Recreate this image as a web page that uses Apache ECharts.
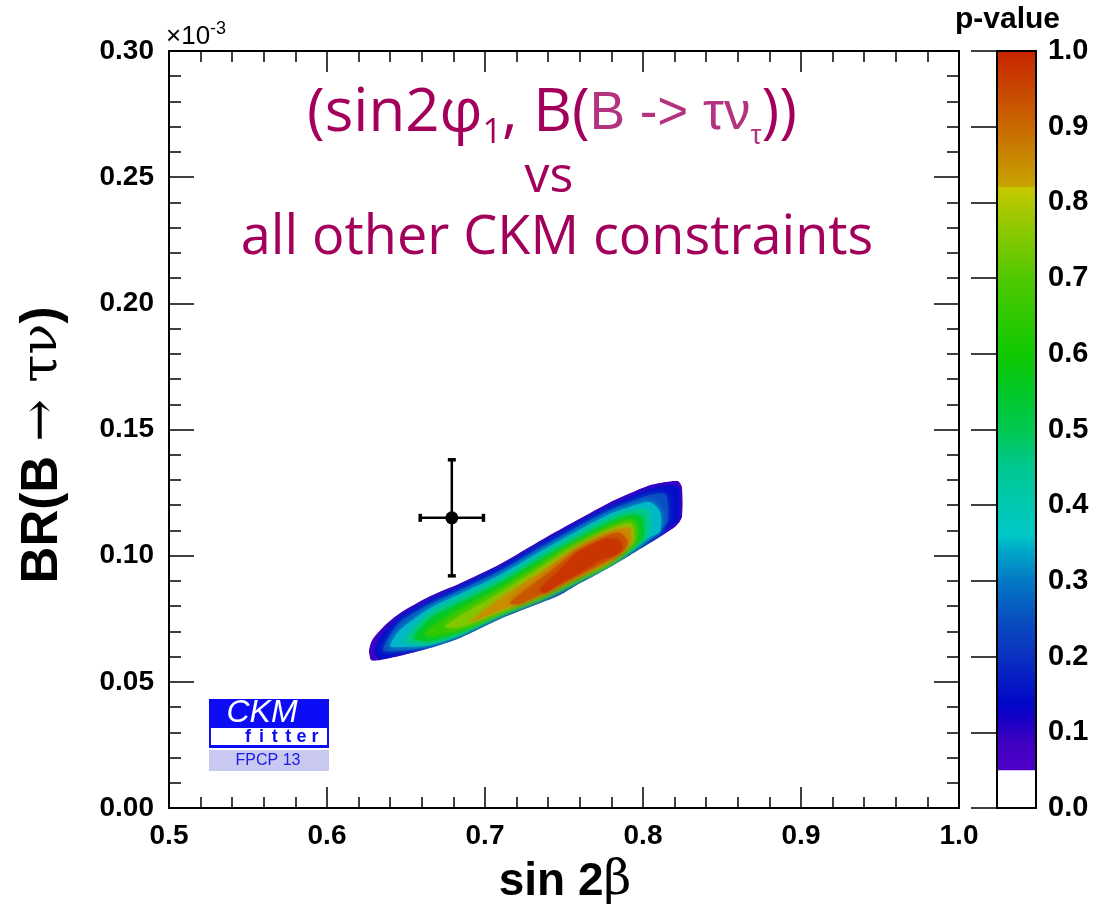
<!DOCTYPE html>
<html><head><meta charset="utf-8">
<script src="https://cdn.jsdelivr.net/npm/echarts@6/dist/echarts.min.js"></script>
<style>html,body{margin:0;padding:0;background:#fff}#c{width:1111px;height:908px}</style>
</head><body><div id="c"></div><script>
// ---- axis ranges / ticks ----
const xRange = [0.5, 1.0], xInterval = 0.1;
const yRange = [0.0, 0.30], yInterval = 0.05;
const zRange = [0.0, 1.0], zInterval = 0.1;

// ---- measurement point (sin2beta, BR) with errors ----
const measX = 0.679, measY = 0.115, measXErr = 0.020, measYErr = 0.023;

// ---- p-value contour levels and contour outlines [sin2beta, BR(x1e-3)] ----
const contourLevels = [0.05, 0.10, 0.20, 0.30, 0.40, 0.50, 0.60, 0.70, 0.80, 0.90, 0.95];
const c005 = [[0.6266,0.0626],[0.6285,0.0666],[0.6367,0.0725],[0.6462,0.0773],[0.6652,0.0840],[0.6842,0.0891],[0.7095,0.0967],[0.7367,0.1066],[0.7582,0.1141],[0.7791,0.1212],[0.7918,0.1248],[0.8044,0.1280],[0.8139,0.1292],[0.8222,0.1296],[0.8247,0.1272],[0.8247,0.1153],[0.8209,0.1117],[0.8044,0.1050],[0.7918,0.1002],[0.7791,0.0955],[0.7665,0.0911],[0.7582,0.0884],[0.7475,0.0844],[0.7367,0.0816],[0.7095,0.0749],[0.6842,0.0674],[0.6652,0.0634],[0.6462,0.0602],[0.6335,0.0586],[0.6278,0.0586]];
const c010 = [[0.6304,0.0618],[0.6335,0.0674],[0.6462,0.0757],[0.6652,0.0824],[0.6842,0.0880],[0.7095,0.0955],[0.7367,0.1054],[0.7582,0.1129],[0.7791,0.1197],[0.7918,0.1232],[0.8044,0.1264],[0.8139,0.1276],[0.8222,0.1272],[0.8228,0.1220],[0.8228,0.1161],[0.8222,0.1141],[0.8139,0.1101],[0.8044,0.1054],[0.7918,0.1006],[0.7791,0.0957],[0.7582,0.0887],[0.7367,0.0820],[0.7095,0.0753],[0.6842,0.0677],[0.6652,0.0638],[0.6462,0.0610],[0.6335,0.0590]];
const c020 = [[0.6354,0.0626],[0.6462,0.0737],[0.6652,0.0808],[0.6842,0.0864],[0.7095,0.0939],[0.7367,0.1038],[0.7582,0.1113],[0.7791,0.1181],[0.7918,0.1212],[0.8044,0.1240],[0.8139,0.1244],[0.8158,0.1200],[0.8158,0.1141],[0.8139,0.1121],[0.8044,0.1062],[0.7918,0.1010],[0.7791,0.0959],[0.7582,0.0891],[0.7367,0.0824],[0.7095,0.0757],[0.6842,0.0681],[0.6652,0.0642],[0.6462,0.0622]];
const c030 = [[0.6399,0.0642],[0.6462,0.0705],[0.6652,0.0792],[0.6842,0.0848],[0.7095,0.0923],[0.7367,0.1022],[0.7582,0.1097],[0.7791,0.1165],[0.7918,0.1193],[0.8044,0.1212],[0.8108,0.1173],[0.8108,0.1094],[0.8044,0.1074],[0.7918,0.1014],[0.7791,0.0961],[0.7582,0.0895],[0.7367,0.0828],[0.7095,0.0761],[0.6842,0.0685],[0.6652,0.0646],[0.6462,0.0638]];
const c040 = [[0.6494,0.0662],[0.6652,0.0773],[0.6842,0.0832],[0.7095,0.0907],[0.7367,0.1006],[0.7582,0.1082],[0.7791,0.1149],[0.7918,0.1177],[0.8032,0.1181],[0.8044,0.1125],[0.8032,0.1082],[0.7918,0.1018],[0.7791,0.0963],[0.7582,0.0899],[0.7367,0.0832],[0.7095,0.0765],[0.6842,0.0689],[0.6652,0.0654]];
const c050 = [[0.6551,0.0674],[0.6652,0.0749],[0.6842,0.0812],[0.7095,0.0891],[0.7367,0.0991],[0.7582,0.1066],[0.7791,0.1133],[0.7918,0.1161],[0.7994,0.1153],[0.8006,0.1101],[0.7994,0.1066],[0.7918,0.1026],[0.7791,0.0967],[0.7582,0.0903],[0.7367,0.0836],[0.7095,0.0769],[0.6842,0.0697],[0.6652,0.0662]];
const c060 = [[0.6620,0.0689],[0.6652,0.0713],[0.6842,0.0788],[0.7095,0.0872],[0.7367,0.0975],[0.7582,0.1054],[0.7791,0.1117],[0.7918,0.1145],[0.7956,0.1133],[0.7968,0.1094],[0.7956,0.1058],[0.7918,0.1034],[0.7791,0.0971],[0.7582,0.0907],[0.7367,0.0840],[0.7095,0.0773],[0.6842,0.0705],[0.6652,0.0681]];
const c070 = [[0.6747,0.0717],[0.6842,0.0761],[0.7095,0.0852],[0.7367,0.0959],[0.7582,0.1042],[0.7791,0.1105],[0.7918,0.1129],[0.7937,0.1113],[0.7943,0.1078],[0.7930,0.1046],[0.7791,0.0975],[0.7582,0.0911],[0.7367,0.0844],[0.7095,0.0777],[0.6842,0.0717]];
const c080 = [[0.6918,0.0745],[0.7095,0.0828],[0.7367,0.0939],[0.7582,0.1030],[0.7791,0.1094],[0.7918,0.1113],[0.7924,0.1094],[0.7924,0.1054],[0.7854,0.1014],[0.7791,0.0979],[0.7582,0.0915],[0.7367,0.0848],[0.7095,0.0784],[0.6905,0.0737]];
const c090 = [[0.7158,0.0812],[0.7367,0.0915],[0.7582,0.1018],[0.7791,0.1082],[0.7854,0.1090],[0.7899,0.1062],[0.7892,0.1030],[0.7854,0.1010],[0.7791,0.0987],[0.7582,0.0919],[0.7475,0.0884],[0.7367,0.0852],[0.7222,0.0808]];
const c095 = [[0.7348,0.0864],[0.7443,0.0923],[0.7582,0.1010],[0.7759,0.1066],[0.7848,0.1062],[0.7867,0.1030],[0.7848,0.1010],[0.7728,0.0983],[0.7582,0.0927],[0.7475,0.0891],[0.7380,0.0852]];
const contours = [c005, c010, c020, c030, c040, c050, c060, c070, c080, c090, c095];

// colour bar: white below this level
const zWhiteMax = 0.05;

// ---- palette (style) ----
const paletteStops = [
  [0.05,'#5000c8'],[0.09,'#3c00c0'],[0.12,'#1400c8'],[0.14,'#0008c8'],[0.20,'#0a30c0'],
  [0.25,'#0850c0'],[0.30,'#0478c4'],[0.34,'#00a8c8'],[0.36,'#00c8c8'],[0.40,'#00c8b0'],
  [0.45,'#00c890'],[0.50,'#00c850'],[0.55,'#00c828'],[0.60,'#10c800'],[0.70,'#50c800'],
  [0.80,'#b0c800'],[0.82,'#c8c800'],[0.821,'#c8a400'],[0.90,'#c86800'],[1.00,'#c82400']
];
function hex2rgb(h){return [parseInt(h.substr(1,2),16),parseInt(h.substr(3,2),16),parseInt(h.substr(5,2),16)];}
function colorAt(v){
  if (v <= paletteStops[0][0]) return paletteStops[0][1];
  for (let i=1;i<paletteStops.length;i++){
    if (v <= paletteStops[i][0]){
      const a=paletteStops[i-1], b=paletteStops[i];
      const t=(v-a[0])/(b[0]-a[0]);
      const ca=hex2rgb(a[1]), cb=hex2rgb(b[1]);
      const c=ca.map((q,k)=>Math.round(q+(cb[k]-q)*t));
      return 'rgb('+c.join(',')+')';
    }
  }
  return paletteStops[paletteStops.length-1][1];
}

const FONT = 'Liberation Sans';
const TITLE_FONT = 'Open Sans';
const TITLE_COL = '#a3005b';
const TITLE_COL2 = '#b3337f';

const chart = echarts.init(document.getElementById('c'), null, {renderer:'canvas'});

const tickStyle = {color:'#000', width:1.5};
function mkX(pos, showLabel){
  return {type:'value', gridIndex:0, min:xRange[0], max:xRange[1], interval:xInterval, position:pos, z:10,
    axisLine:{show:true, onZero:false, lineStyle:{color:'#000', width:2}},
    axisTick:{show:true, inside:true, length:21, lineStyle:tickStyle},
    minorTick:{show:true, splitNumber:5, length:11, lineStyle:tickStyle},
    splitLine:{show:false}, minorSplitLine:{show:false},
    axisLabel:{show:showLabel, margin:14, color:'#000', fontFamily:FONT, fontWeight:'bold', fontSize:28,
      formatter:v=>v.toFixed(1)}};
}
function mkY(pos, showLabel){
  return {type:'value', gridIndex:0, min:yRange[0], max:yRange[1], interval:yInterval, position:pos, z:10,
    axisLine:{show:true, onZero:false, lineStyle:{color:'#000', width:2}},
    axisTick:{show:true, inside:true, length:25, lineStyle:tickStyle},
    minorTick:{show:true, splitNumber:5, length:12, lineStyle:tickStyle},
    splitLine:{show:false}, minorSplitLine:{show:false},
    axisLabel:{show:showLabel, margin:15, color:'#000', fontFamily:FONT, fontWeight:'bold', fontSize:28,
      formatter:v=>v.toFixed(2)}};
}

const gradStops = paletteStops.map(s=>({offset:(s[0]-zWhiteMax)/(zRange[1]-zWhiteMax), color:s[1]}));

const option = {
  animation:false,
  backgroundColor:'#fff',
  grid:[
    {left:169, top:51, width:790, height:757, show:false},
    {left:997, top:51, width:39, height:757, show:false}
  ],
  xAxis:[ mkX('bottom', true), mkX('top', false),
    {type:'value', gridIndex:1, min:0, max:1, show:false} ],
  yAxis:[ mkY('left', true), mkY('right', false),
    {type:'value', gridIndex:1, min:zRange[0], max:zRange[1], interval:zInterval, position:'right', z:10,
      axisLine:{show:true, lineStyle:{color:'#000', width:2}},
      axisTick:{show:true, inside:true, length:26, lineStyle:tickStyle},
      splitLine:{show:false},
      axisLabel:{show:true, margin:12, color:'#000', fontFamily:FONT, fontWeight:'bold', fontSize:29,
        formatter:v=>v.toFixed(1)}} ],
  series:[
    {
      type:'custom', xAxisIndex:0, yAxisIndex:0, clip:false, silent:true,
      data:[[0.7, 0.1]],
      renderItem:(params, api)=>{
        const children = contours.map((c,i)=>{
          const lo = contourLevels[i];
          const hi = i+1<contourLevels.length ? contourLevels[i+1] : 1.0;
          const col = colorAt((lo+hi)/2);
          return {type:'polygon', shape:{points:c.map(p=>api.coord(p)), smooth:0.25},
            style:{fill:col, stroke:null, shadowBlur:i===0?0:6, shadowColor:col}};
        });
        return {type:'group', children,
          clipPath:{type:'polygon', shape:{points:contours[0].map(p=>api.coord(p)), smooth:0.25}}};
      }
    },
    {
      type:'custom', xAxisIndex:0, yAxisIndex:0, clip:false, silent:true, z:5,
      data:[[measX, measY, measXErr, measYErr]],
      renderItem:(params, api)=>{
        const x=api.value(0), y=api.value(1), ex=api.value(2), ey=api.value(3);
        const c=api.coord([x,y]), l=api.coord([x-ex,y]), r=api.coord([x+ex,y]);
        const t=api.coord([x,y+ey]), b=api.coord([x,y-ey]);
        const st={stroke:'#000', lineWidth:2.5};
        const cs={stroke:'#000', lineWidth:3.5};
        return {type:'group', children:[
          {type:'line', shape:{x1:l[0],y1:l[1],x2:r[0],y2:r[1]}, style:st},
          {type:'line', shape:{x1:t[0],y1:t[1],x2:b[0],y2:b[1]}, style:st},
          {type:'line', shape:{x1:l[0],y1:l[1]-4,x2:l[0],y2:l[1]+4}, style:cs},
          {type:'line', shape:{x1:r[0],y1:r[1]-4,x2:r[0],y2:r[1]+4}, style:cs},
          {type:'line', shape:{x1:t[0]-4,y1:t[1],x2:t[0]+4,y2:t[1]}, style:cs},
          {type:'line', shape:{x1:b[0]-4,y1:b[1],x2:b[0]+4,y2:b[1]}, style:cs},
          {type:'circle', shape:{cx:c[0],cy:c[1],r:6.5}, style:{fill:'#000'}}
        ]};
      }
    },
    {
      type:'custom', xAxisIndex:2, yAxisIndex:2, clip:false, silent:true, z:1,
      data:[[0, 0]],
      renderItem:(params, api)=>{
        const p0=api.coord([0, zRange[0]]), pw=api.coord([0, zWhiteMax]), p1=api.coord([1, zRange[1]]);
        const x0=p0[0], x1=p1[0];
        return {type:'group', children:[
          {type:'rect', shape:{x:x0, y:pw[1], width:x1-x0, height:p0[1]-pw[1]}, style:{fill:'#fff'}},
          {type:'rect', shape:{x:x0, y:p1[1], width:x1-x0, height:pw[1]-p1[1]},
            style:{fill:new echarts.graphic.LinearGradient(0,1,0,0,gradStops)}},
          {type:'rect', shape:{x:x0, y:p1[1], width:x1-x0, height:p0[1]-p1[1]},
            style:{fill:null, stroke:'#000', lineWidth:2}}
        ]};
      }
    }
  ],
  graphic:[
    {type:'text', x:166, y:35, style:{text:'{a|×10}{b|-3}', verticalAlign:'middle',
      rich:{a:{fontSize:26, fontFamily:FONT, fill:'#000', lineHeight:30, verticalAlign:'bottom'},
            b:{fontSize:18, fontFamily:FONT, fill:'#000', lineHeight:18, verticalAlign:'top'}}}},
    {type:'text', x:552, y:114, style:{text:'{c|(sin2φ}{s|1}{c|, B(}{p|B -> τν}{ps|τ}{c|))}', align:'center', verticalAlign:'middle',
      rich:{c:{fontSize:60, fontFamily:TITLE_FONT, fill:TITLE_COL, lineHeight:72, verticalAlign:'middle'},
            s:{fontSize:34, fontFamily:TITLE_FONT, fill:TITLE_COL, lineHeight:34, verticalAlign:'bottom'},
            p:{fontSize:53, fontFamily:FONT, fill:TITLE_COL2, lineHeight:72, verticalAlign:'middle'},
            ps:{fontSize:28, fontFamily:FONT, fill:TITLE_COL2, lineHeight:30, verticalAlign:'bottom'}}}},
    {type:'text', x:549, y:178, style:{text:'vs', align:'center', verticalAlign:'middle',
      fontSize:50, fontFamily:TITLE_FONT, fill:TITLE_COL}},
    {type:'text', x:557, y:239, style:{text:'all other CKM constraints', align:'center', verticalAlign:'middle',
      fontSize:54, fontFamily:TITLE_FONT, fill:TITLE_COL}},
    {type:'text', x:565, y:882, style:{text:'{b|sin 2}{g|β}', align:'center', verticalAlign:'middle',
      rich:{b:{fontSize:46, fontFamily:FONT, fontWeight:'bold', fill:'#000'},
            g:{fontSize:48, fontFamily:'DejaVu Serif', fill:'#000'}}}},
    {type:'text', x:43, y:445, rotation:Math.PI/2, style:{text:'{b|BR(B }{g|→ τν}{b|)}', align:'center', verticalAlign:'middle',
      rich:{b:{fontSize:51, fontFamily:FONT, fontWeight:'bold', fill:'#000'},
            g:{fontSize:51, fontFamily:'DejaVu Serif', fill:'#000'}}}},
    {type:'text', x:1060, y:20, style:{text:'p-value', align:'right', verticalAlign:'middle',
      fontSize:30, fontFamily:FONT, fontWeight:'bold', fill:'#000'}},
    // CKMfitter logo
    {type:'group', children:[
      {type:'rect', shape:{x:209, y:699, width:120, height:29}, style:{fill:'#0c0cf5'}},
      {type:'rect', shape:{x:209, y:727, width:120, height:21}, style:{fill:'#0c0cf5'}},
      {type:'rect', shape:{x:211, y:728, width:116, height:17}, style:{fill:'#fff'}},
      {type:'rect', shape:{x:209, y:750, width:120, height:21}, style:{fill:'#c8c8f0'}},
      {type:'text', x:262, y:713, style:{text:'CKM', align:'center', verticalAlign:'middle', fontSize:32, fontStyle:'italic', fontFamily:FONT, fill:'#fff'}},
      ...['f','i','t','t','e','r'].map((ch,k)=>({type:'text', x:248+k*13.4, y:737, style:{text:ch, align:'center', verticalAlign:'middle', fontSize:18, fontWeight:'bold', fontFamily:FONT, fill:'#0c0cf5'}})),
      {type:'text', x:268, y:761, style:{text:'FPCP 13', align:'center', verticalAlign:'middle', fontSize:16, fontFamily:FONT, fill:'#1a1ae6'}}
    ]}
  ]
};
chart.setOption(option);
</script></body></html>
